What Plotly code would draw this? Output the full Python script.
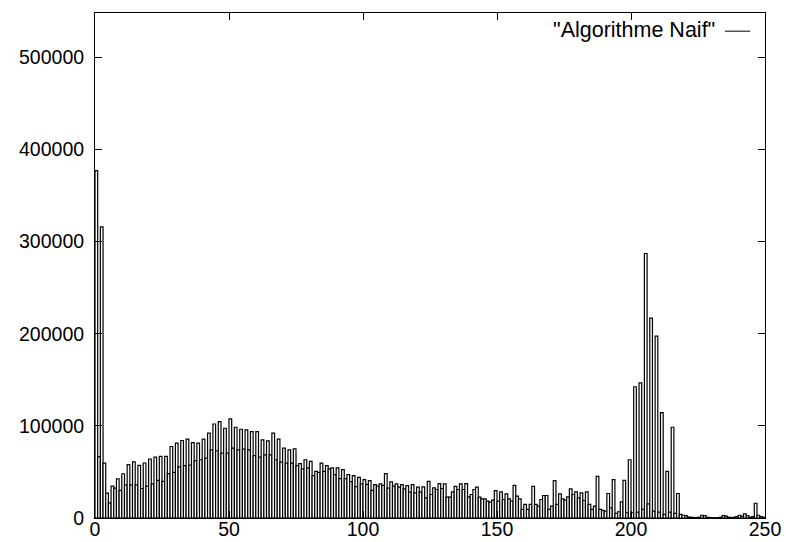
import plotly.graph_objects as go

levels = list(range(256))
counts = [
    377000, 66500, 316000, 59500, 27000, 16500, 34500, 32500, 42500, 30000,
    48000, 36000, 58000, 36000, 61000, 36000, 57000, 32000, 59700, 34500,
    64000, 37000, 66000, 40900, 66800, 39800, 66800, 48100, 77600, 49500,
    81200, 55400, 84100, 56800, 85500, 57500, 81900, 62200, 81200, 63200,
    85500, 65000, 92000, 74000, 102000, 73000, 104600, 70400, 97400, 70400,
    107500, 75800, 98500, 74000, 96300, 74700, 95600, 74000, 93800, 67600,
    93800, 66100, 84800, 68600, 83700, 68600, 92000, 63200, 85500, 60700,
    75800, 59600, 74000, 59600, 75100, 56800, 58900, 53200, 63200, 54300,
    61400, 46000, 50600, 49600, 59600, 50600, 56800, 53200, 54300, 47100,
    54300, 42700, 52500, 42700, 47000, 39500, 46000, 34000, 44000, 37000,
    41700, 36500, 40600, 30000, 36300, 34500, 37000, 35500, 48100, 32500,
    39100, 34500, 37000, 33500, 36300, 31500, 35200, 28000, 36300, 27300,
    33400, 28400, 33800, 21900, 39800, 25500, 32700, 30900, 37300, 32000,
    37000, 22600, 22600, 28400, 34400, 30900, 37000, 30900, 37300, 23000,
    25500, 30900, 33400, 22600, 20800, 20800, 18300, 17200, 19400, 29800,
    18300, 28400, 20100, 26200, 20800, 18300, 35500, 23700, 20800, 9300,
    14700, 9300, 14700, 34400, 14700, 12900, 20100, 24400, 24400, 9300,
    12900, 40600, 14700, 26200, 20800, 19400, 23000, 31600, 25500, 28400,
    21900, 27300, 19000, 28400, 14700, 9300, 12900, 45200, 9300, 8200,
    7500, 26600, 11100, 41700, 5000, 6800, 17600, 40900, 5700, 63200,
    5700, 142400, 6400, 146700, 9300, 287000, 15400, 217000, 7500, 197400,
    6400, 114300, 3900, 50600, 6400, 98500, 5000, 26600, 4000, 3000,
    2500, 1000, 800, 500, 500, 800, 3000, 2500, 800, 500,
    300, 300, 300, 800, 2500, 2000, 800, 500, 800, 1500,
    3000, 2000, 4500, 2500, 800, 1500, 16000, 3000, 1500, 800,
    500, 300, 300, 200, 200, 100,
]
x_ticks = [0, 50, 100, 150, 200, 250]
y_ticks = [0, 100000, 200000, 300000, 400000, 500000]
series_name = '"Algorithme Naif"'

font_family = "Liberation Sans, Arial, Helvetica, sans-serif"

fig = go.Figure(
    go.Bar(
        x=levels,
        y=counts,
        width=1,
        offset=0,
        name=series_name,
        showlegend=False,
        hoverinfo="skip",
        marker=dict(color="white", line=dict(color="black", width=1.2)),
    )
)

fig.update_layout(
    width=786,
    height=542,
    margin=dict(l=95, r=21, t=13, b=24),
    plot_bgcolor="white",
    paper_bgcolor="white",
    bargap=0,
    font=dict(family=font_family, size=19.5, color="black"),
)

axis_style = dict(
    ticks="inside",
    ticklen=7,
    tickcolor="black",
    mirror="allticks",
    showline=True,
    linecolor="black",
    linewidth=1,
    showgrid=False,
    zeroline=False,
    automargin=False,
)

fig.update_xaxes(
    range=[0, 250],
    tickvals=x_ticks,
    ticktext=[str(v) for v in x_ticks],
    ticklabelstandoff=-6,
    **axis_style,
)
fig.update_yaxes(
    range=[0, 548000],
    tickvals=y_ticks,
    ticktext=[str(v) for v in y_ticks],
    ticklabelstandoff=6,
    **axis_style,
)

# gnuplot-style key: text followed by a line sample
fig.add_annotation(
    x=0.928, y=0.966, xref="paper", yref="paper",
    text=series_name, showarrow=False,
    xanchor="right", yanchor="middle",
    font=dict(family=font_family, size=21.5, color="black"),
)
fig.add_shape(
    type="line", xref="paper", yref="paper",
    x0=0.94, x1=0.978, y0=0.964, y1=0.964,
    line=dict(color="black", width=1),
)

fig.write_html(
    "out.html",
    config={"displayModeBar": False, "staticPlot": True},
    post_script="document.body.style.margin='0px';document.body.style.overflow='hidden';",
)
